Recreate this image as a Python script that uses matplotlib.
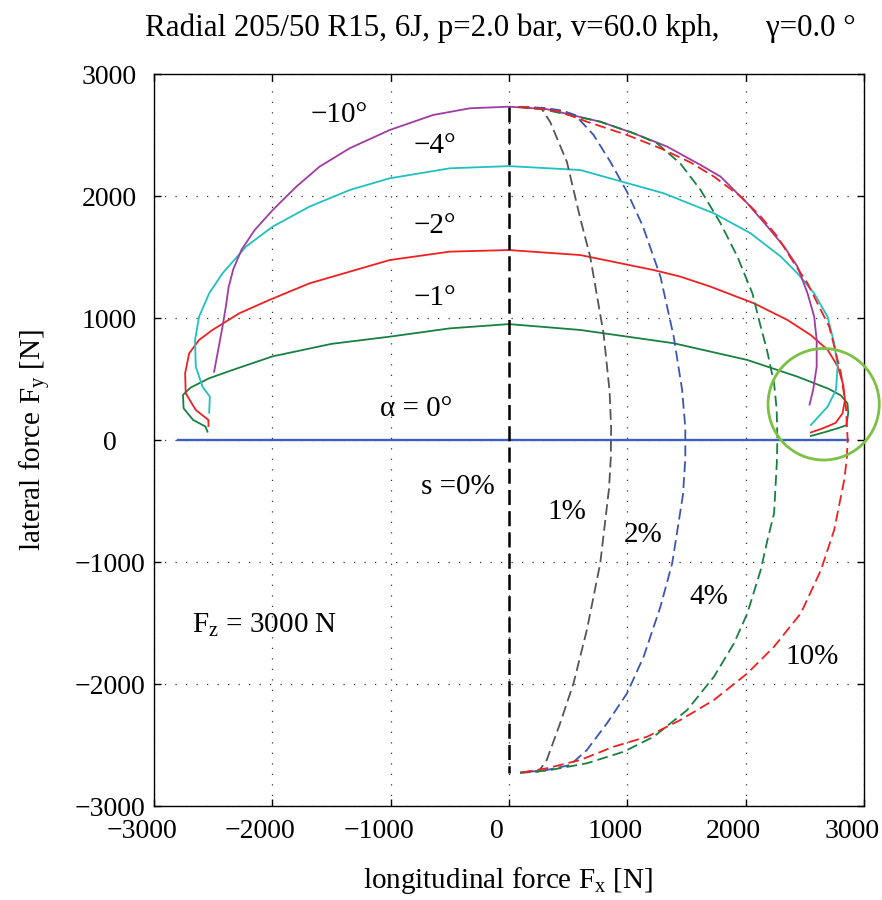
import matplotlib
matplotlib.use("Agg")
import matplotlib.pyplot as plt
import matplotlib.transforms as mtransforms
from matplotlib.patches import Ellipse

# tyre: Radial 205/50 R15, Fz = 3000 N
# lateral curves (constant slip angle, slip swept from -100% to +100%)
fx_a1 = [-2548, -2565, -2670, -2750, -2755, -2690, -2534, -2336, -2000, -1500, -1008, -500, 0,
         602, 1392, 2014, 2438, 2700, 2805, 2860, 2867, 2850, 2777, 2664, 2551]
fy_a1 = [68, 110, 165, 260, 370, 430, 506, 574, 685, 788, 847, 915, 950,
         902, 793, 656, 519, 420, 365, 301, 219, 120, 96, 63, 33]

fx_a2 = [-2540, -2540, -2647, -2732, -2737, -2703, -2619, -2506, -2280, -2025, -1686, -1008, -500, 0,
         602, 1223, 1449, 1703, 2071, 2353, 2550, 2692, 2780, 2825, 2839, 2819, 2760, 2650, 2551]
fy_a2 = [115, 164, 246, 383, 547, 710, 820, 902, 1038, 1148, 1284, 1475, 1544, 1557,
         1516, 1393, 1339, 1257, 1120, 984, 860, 740, 600, 450, 328, 219, 140, 95, 62]

fx_a4 = [-2534, -2528, -2590, -2647, -2653, -2619, -2534, -2421, -2223, -1997, -1686, -1347, -1008, -500, 0,
         602, 1308, 1732, 2042, 2297, 2438, 2579, 2692, 2748, 2777, 2763, 2692, 2551]
fy_a4 = [224, 355, 437, 601, 820, 1011, 1202, 1366, 1585, 1749, 1913, 2049, 2145, 2227, 2245,
         2213, 2022, 1858, 1694, 1503, 1366, 1202, 1011, 793, 601, 410, 273, 123]

fx_a10 = [-2492, -2463, -2421, -2393, -2370, -2330, -2260, -2150, -1997, -1799, -1602, -1347, -1008, -642, -331, 0,
          319, 771, 1054, 1336, 1619, 1788, 2014, 2184, 2325, 2438, 2523, 2579, 2600, 2600, 2570, 2540]
fy_a10 = [560, 710, 929, 1093, 1250, 1400, 1560, 1720, 1885, 2075, 2240, 2391, 2541, 2664, 2719, 2732,
          2712, 2609, 2514, 2405, 2254, 2159, 1940, 1749, 1585, 1421, 1202, 1011, 820, 601, 410, 290]

# alpha = 0 (pure longitudinal)
fx_a0 = [-2800, 2862]
fy_a0 = [0, 0]

# longitudinal curves (constant slip, slip angle swept)
fx_s0 = [0, 0]
fy_s0 = [2730, -2730]

fx_s1 = [80, 200, 277, 347, 489, 602, 686, 799, 850, 863, 860, 845, 771, 658, 545, 432, 319, 249, 93]
fy_s1 = [2730, 2728, 2713, 2609, 2281, 1817, 1503, 874, 400, 100, -150, -400, -1011, -1557, -1995, -2322, -2623,
         -2719, -2727]

fx_s2 = [80, 300, 450, 559, 715, 856, 997, 1130, 1280, 1392, 1463, 1490, 1490, 1470, 1379, 1280, 1138, 997,
         828, 658, 517, 319, 93]
fy_s2 = [2730, 2722, 2700, 2664, 2500, 2281, 2035, 1755, 1339, 847, 410, 100, -150, -450, -1011, -1366, -1776,
         -2077, -2322, -2541, -2664, -2705, -2727]

fx_s4 = [80, 291, 771, 1054, 1138, 1251, 1449, 1619, 1788, 1930, 2057, 2127, 2180, 2240, 2262, 2268, 2263, 2240,
         2184, 2127, 2014, 1901, 1732, 1506, 1223, 969, 658, 319, 93]
fy_s4 = [2730, 2710, 2609, 2514, 2480, 2432, 2265, 2049, 1776, 1503, 1202, 929, 738, 465, 250, 0, -191, -601,
         -820, -1066, -1421, -1667, -1940, -2213, -2432, -2555, -2650, -2710, -2727]

fx_s10 = [80, 300, 432, 658, 997, 1280, 1534, 1732, 1958, 2127, 2268, 2410, 2523, 2621, 2706, 2740, 2805, 2847,
          2862, 2855, 2833, 2748, 2636, 2466, 2240, 2014, 1732, 1449, 1167, 884, 602, 319, 93]
fy_s10 = [2730, 2712, 2691, 2609, 2500, 2391, 2275, 2159, 1995, 1831, 1667, 1448, 1284, 1093, 929, 800, 547, 273,
          0, -150, -328, -738, -1066, -1421, -1694, -1913, -2131, -2295, -2432, -2514, -2623, -2691, -2727]

ticks = [-3000, -2000, -1000, 0, 1000, 2000, 3000]

plt.rcParams['font.family'] = ['Liberation Serif', 'DejaVu Serif']
plt.rcParams['mathtext.fontset'] = 'custom'
plt.rcParams['mathtext.rm'] = 'Liberation Serif'

fig = plt.figure(figsize=(8.82, 9.0), dpi=100)
ax = fig.add_axes([154 / 882, 1 - 806 / 900, 710 / 882, 732 / 900])

# dotted grid like the original
ax.grid(True, color='#333333', linestyle=(0, (1, 7.4)), linewidth=0.9)
ax.set_axisbelow(True)

solid_lw = 1.3
dash = (0, (6, 2.8))

ax.plot(fx_a0, fy_a0, color='#3f5fbf', lw=1.7)
ax.plot(fx_a1, fy_a1, color='#188040', lw=solid_lw)
ax.plot(fx_a2, fy_a2, color='#f02020', lw=solid_lw)
ax.plot(fx_a4, fy_a4, color='#20c0c0', lw=solid_lw)
ax.plot(fx_a10, fy_a10, color='#a03ca0', lw=solid_lw)

ax.plot(fx_s1, fy_s1, color='#555555', lw=solid_lw, linestyle=dash)
ax.plot(fx_s2, fy_s2, color='#3a55b4', lw=solid_lw, linestyle=dash)
ax.plot(fx_s4, fy_s4, color='#188040', lw=solid_lw, linestyle=dash)
ax.plot(fx_s10, fy_s10, color='#f02020', lw=solid_lw, linestyle=dash)
ax.plot(fx_s0, fy_s0, color='black', lw=1.8, linestyle=(0, (6, 2.5)))

# highlight circle
circ = Ellipse((2659, 293), 940, 914, fill=False, edgecolor='#7cc142', lw=2.0, clip_on=False, zorder=5)
ax.add_patch(circ)

ax.set_xlim(-3000, 3000)
ax.set_ylim(-3000, 3000)
ax.set_xticks(ticks)
ax.set_yticks(ticks)
ax.tick_params(direction='in', length=5, width=1, top=True, right=True, labelsize=20)
ax.tick_params(axis='x', pad=9)
ax.tick_params(axis='y', pad=32)
for lbl in ax.get_yticklabels():
    lbl.set_horizontalalignment('center')
offset = mtransforms.ScaledTranslation(-0.12, 0, fig.dpi_scale_trans)
for lbl in ax.get_xticklabels():
    lbl.set_transform(lbl.get_transform() + offset)
for sp in ax.spines.values():
    sp.set_linewidth(1.0)

# labels on the curves
fs = 21
ax.text(-1432, 2664, '\u221210\u00b0', fontsize=fs, ha='center', va='center')
ax.text(-627, 2410, '\u22124\u00b0', fontsize=fs, ha='center', va='center')
ax.text(-627, 1754, '\u22122\u00b0', fontsize=fs, ha='center', va='center')
ax.text(-627, 1164, '\u22121\u00b0', fontsize=fs, ha='center', va='center')
ax.text(-788, 254, '\u03b1 = 0\u00b0', fontsize=fs, ha='center', va='center')
ax.text(-432, -385, 's =0%', fontsize=fs, ha='center', va='center')
ax.text(492, -590, '1%', fontsize=fs, ha='center', va='center')
ax.text(1136, -779, '2%', fontsize=fs, ha='center', va='center')
ax.text(1686, -1287, '4%', fontsize=fs, ha='center', va='center')
ax.text(2559, -1779, '10%', fontsize=fs, ha='center', va='center')
ax.text(-2678, -1516, 'F$_\\mathregular{z}$ = 3000 N', fontsize=fs, ha='left', va='center')

fig.text(500 / 882, 1 - 28 / 900,
         'Radial 205/50 R15, 6J, p=2.0 bar, v=60.0 kph,      \u03b3=0.0 \u00b0',
         fontsize=22.3, ha='center', va='center')
fig.text(508 / 882, 1 - 880 / 900, 'longitudinal force F$_\\mathregular{x}$ [N]',
         fontsize=21, ha='center', va='center')
fig.text(35 / 882, 1 - 440 / 900, 'lateral force F$_\\mathregular{y}$ [N]',
         fontsize=21, ha='center', va='center', rotation=90)

fig.savefig('out.png', dpi=100)
